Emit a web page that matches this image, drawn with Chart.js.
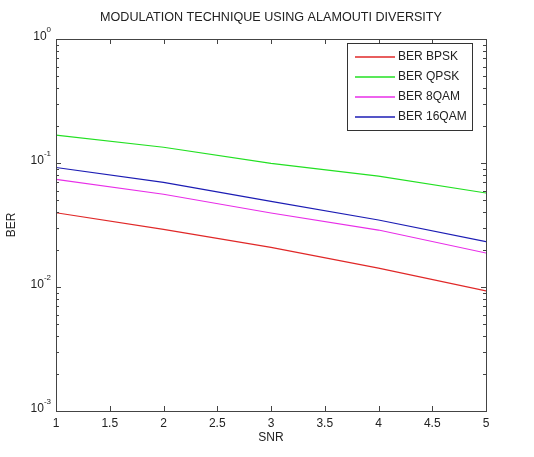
<!DOCTYPE html>
<html>
<head>
<meta charset="utf-8">
<script src="https://cdn.jsdelivr.net/npm/chart.js@4/dist/chart.umd.min.js"></script>
<style>
  html, body { margin: 0; padding: 0; background: #fff; }
  #wrap { width: 534px; height: 457px; }
</style>
</head>
<body>
<div id="wrap"><canvas id="berChart" width="534" height="457"></canvas></div>
<script>
// data
const snr = [1, 2, 3, 4, 5];
const berBpsk = [0.0397, 0.0292, 0.0209, 0.0142, 0.0093];
const berQpsk = [0.168, 0.134, 0.0994, 0.0785, 0.0573];
const ber8qam = [0.0738, 0.056, 0.0395, 0.0288, 0.0188];
const ber16qam = [0.092, 0.0699, 0.049, 0.0347, 0.0232];

const seriesNames = ['BER BPSK', 'BER QPSK', 'BER 8QAM', 'BER 16QAM'];
const seriesColors = ['#e02828', '#22e022', '#e82ee8', '#1c1cb4'];

const xTickValues = [1, 1.5, 2, 2.5, 3, 3.5, 4, 4.5, 5];
const yDecades = [1, 0.1, 0.01, 0.001];
const yExponents = ['0', '-1', '-2', '-3'];

const chartTitle = 'MODULATION TECHNIQUE USING ALAMOUTI DIVERSITY';
const xTitle = 'SNR';
const yTitle = 'BER';

const FONT = '"Liberation Sans", Arial, sans-serif';
const TEXT = '#222';
const AXIS = '#444';

const toPoints = arr => arr.map((v, i) => ({ x: snr[i], y: v }));
const seriesValues = [berBpsk, berQpsk, ber8qam, ber16qam];

// matlab style box, inward ticks, 10^n labels, title and legend
const matlabAxes = {
  id: 'matlabAxes',
  afterDatasetsDraw(chart) {
    const { ctx, chartArea: a, scales } = chart;
    const xs = scales.x, ys = scales.y;
    ctx.save();

    // box
    ctx.strokeStyle = AXIS;
    ctx.lineWidth = 1;
    ctx.strokeRect(a.left + 0.5, a.top + 0.5, a.right - a.left, a.bottom - a.top);

    // x ticks (top and bottom, inward)
    ctx.beginPath();
    xTickValues.forEach(v => {
      const px = Math.round(xs.getPixelForValue(v)) + 0.5;
      ctx.moveTo(px, a.bottom); ctx.lineTo(px, a.bottom - 5);
      ctx.moveTo(px, a.top); ctx.lineTo(px, a.top + 5);
    });

    // y ticks, major at decades, minor 2..9
    yDecades.forEach(d => {
      for (let m = 1; m <= 9; m++) {
        const v = d * m;
        if (v > ys.max * 1.0001) continue;
        const py = Math.round(ys.getPixelForValue(v)) + 0.5;
        const len = m === 1 ? 5 : 3;
        ctx.moveTo(a.left, py); ctx.lineTo(a.left + len, py);
        ctx.moveTo(a.right, py); ctx.lineTo(a.right - len, py);
      }
    });
    ctx.stroke();

    // y labels 10^n
    ctx.fillStyle = TEXT;
    yDecades.forEach((d, i) => {
      const py = ys.getPixelForValue(d);
      ctx.font = '8px ' + FONT;
      const ew = ctx.measureText(yExponents[i]).width;
      const right = a.left - 5;
      ctx.textAlign = 'left';
      ctx.textBaseline = 'middle';
      ctx.fillText(yExponents[i], right - ew, py - 9);
      ctx.font = '12px ' + FONT;
      ctx.textAlign = 'right';
      ctx.fillText('10', right - ew, py - 2);
    });

    // title
    ctx.font = '12.6px ' + FONT;
    ctx.textAlign = 'center';
    ctx.textBaseline = 'middle';
    ctx.fillText(chartTitle, (a.left + a.right) / 2, a.top - 21);

    // legend
    const boxW = 125, boxH = 87;
    const bx = Math.round(a.right - 14 - boxW), by = Math.round(a.top + 4);
    ctx.fillStyle = '#fff';
    ctx.fillRect(bx, by, boxW, boxH);
    ctx.strokeStyle = '#333';
    ctx.lineWidth = 1;
    ctx.strokeRect(bx + 0.5, by + 0.5, boxW, boxH);
    seriesNames.forEach((name, i) => {
      const ly = by + 14 + i * 20;
      ctx.beginPath();
      ctx.strokeStyle = seriesColors[i];
      ctx.lineWidth = 1.4;
      ctx.moveTo(bx + 8, ly); ctx.lineTo(bx + 48, ly);
      ctx.stroke();
      ctx.fillStyle = TEXT;
      ctx.font = '12px ' + FONT;
      ctx.textAlign = 'left';
      ctx.textBaseline = 'middle';
      ctx.fillText(name, bx + 51, ly);
    });

    ctx.restore();
  }
};

new Chart(document.getElementById('berChart'), {
  type: 'line',
  data: {
    datasets: seriesNames.map((name, i) => ({
      label: name,
      data: toPoints(seriesValues[i]),
      borderColor: seriesColors[i],
      backgroundColor: seriesColors[i],
      borderWidth: 1.2,
      pointRadius: 0,
      tension: 0,
      fill: false
    }))
  },
  options: {
    responsive: false,
    devicePixelRatio: 1,
    animation: false,
    layout: { padding: { top: 39, right: 48, left: 0, bottom: 0 } },
    plugins: {
      legend: { display: false },
      title: { display: false },
      tooltip: { enabled: false }
    },
    scales: {
      x: {
        type: 'linear',
        min: 1,
        max: 5,
        grid: { display: false, drawTicks: false },
        border: { display: false },
        afterBuildTicks: s => { s.ticks = xTickValues.map(v => ({ value: v })); },
        afterFit: s => { s.height = 46; },
        ticks: {
          padding: 5,
          color: TEXT,
          font: { family: FONT, size: 12 },
          maxRotation: 0,
          callback: v => String(v)
        },
        title: {
          display: true,
          text: xTitle,
          color: TEXT,
          font: { family: FONT, size: 12 },
          padding: { top: 0, bottom: 12 }
        }
      },
      y: {
        type: 'logarithmic',
        min: 0.001,
        max: 1,
        grid: { display: false, drawTicks: false },
        border: { display: false },
        ticks: { display: false },
        afterFit: s => { s.width = 56; },
        title: {
          display: true,
          text: yTitle,
          color: TEXT,
          font: { family: FONT, size: 12 },
          padding: { top: 4, bottom: 0 }
        }
      }
    }
  },
  plugins: [matlabAxes]
});
</script>
</body>
</html>
